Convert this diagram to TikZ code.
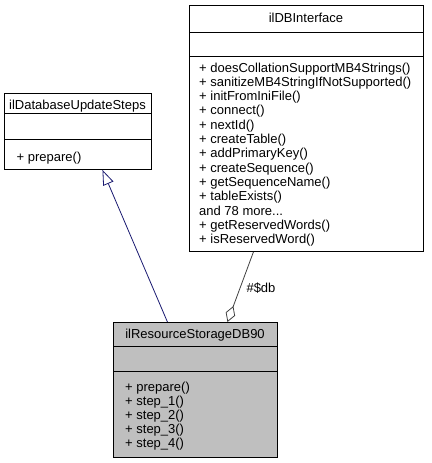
\documentclass[tikz,border=0pt]{standalone}
\usepackage{fontspec}
\setmainfont{Liberation Sans}
\usetikzlibrary{arrows.meta}
\definecolor{inhblue}{HTML}{191970}
\definecolor{aggray}{HTML}{404040}
\definecolor{subfill}{HTML}{BFBFBF}
\newcommand\moremembers{and 78 more...}
\begin{document}
\begin{tikzpicture}[x=1pt,y=-1pt,
  cls/.style={draw=black, line width=0.9pt, inner sep=0, anchor=north west},
  sep/.style={draw=black, line width=0.9pt},
  txt/.style={inner sep=0, font=\fontsize{13}{14}\selectfont},
  inh/.style={draw=inhblue, line width=0.8pt, -{Triangle[open, length=15pt, width=11pt]}},
  agg/.style={draw=aggray, line width=0.8pt, {Diamond[open, length=17pt, width=10pt]}-}]
\useasboundingbox (0,0) rectangle (431,463);
% ilDatabaseUpdateSteps
\node[cls, minimum width=147pt, minimum height=76pt] (steps) at (4,93) {};
\draw[sep] (4,113) -- (151,113);
\draw[sep] (4,139) -- (151,139);
\node[txt, anchor=base] (stepsT) at (77.5,109) {ilDatabaseUpdateSteps};
\node[txt, anchor=base west] (stepsM) at (16.5,161) {+ prepare()};
% ilDBInterface
\node[cls, minimum width=234pt, minimum height=246pt] (db) at (189,5) {};
\draw[sep] (189,32) -- (423,32);
\draw[sep] (189,56) -- (423,56);
\node[txt, anchor=base] (dbT) at (306,22.5) {ilDBInterface};
\foreach \t [count=\i] in {+ doesCollationSupportMB4Strings(), + sanitizeMB4StringIfNotSupported(), + initFromIniFile(), + connect(), + nextId(), + createTable(), + addPrimaryKey(), + createSequence(), + getSequenceName(), + tableExists(), \moremembers, + getReservedWords(), + isReservedWord()}
  \node[txt, anchor=base west] (dbm\i) at (199,72+14.3*\i-14.3) {\t};
% ilResourceStorageDB90
\node[cls, fill=subfill, minimum width=164pt, minimum height=135pt] (sub) at (113,322) {};
\draw[sep] (113,346.5) -- (277,346.5);
\draw[sep] (113,371.5) -- (277,371.5);
\node[txt, anchor=base] (subT) at (195,338) {ilResourceStorageDB90};
\foreach \t [count=\i] in {+ prepare(), + step\_1(), + step\_2(), + step\_3(), + step\_4()}
  \node[txt, anchor=base west] (subm\i) at (125,391.3+14*\i-14) {\t};
% connectors
\draw[inh] ([xshift=-28pt]sub.north) -- ([xshift=24.5pt]steps.south);
\draw[agg] ([xshift=32pt]sub.north) -- ([xshift=-53pt]db.south);
\node[txt] (lbl) at (261,288) {\#\$db};
\end{tikzpicture}
\end{document}
